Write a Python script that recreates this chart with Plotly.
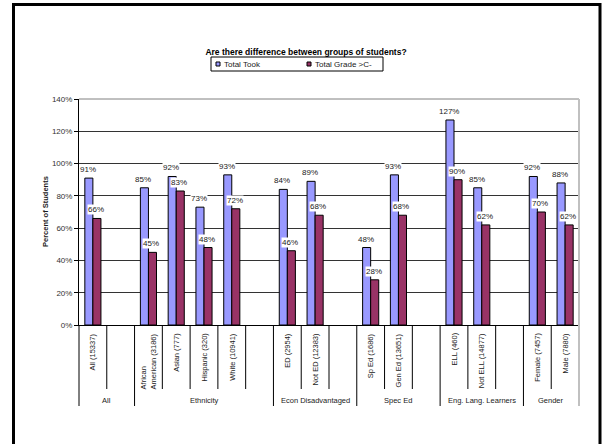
import plotly.graph_objects as go

# Categories (empty strings are spacer slots between groups)
categories = ["All (15337)", "",
              "African<br>American (3186)", "Asian (777)", "Hispanic (320)", "White (10941)", "",
              "ED (2954)", "Not ED (12383)", "",
              "Sp Ed (1686)", "Gen Ed (13651)", "",
              "ELL (460)", "Not ELL (14877)", "",
              "Female (7457)", "Male (7880)"]
total_took = [91, None, 85, 92, 73, 93, None, 84, 89, None, 48, 93, None, 127, 85, None, 92, 88]
total_grade = [66, None, 45, 83, 48, 72, None, 46, 68, None, 28, 68, None, 90, 62, None, 70, 62]
groups = ["All", "Ethnicity", "Econ Disadvantaged", "Spec Ed", "Eng. Lang. Learners", "Gender"]
group_sizes = [2, 5, 3, 3, 3, 2]
y_ticks = [0, 20, 40, 60, 80, 100, 120, 140]
y_tick_labels = [f"{v}%" for v in y_ticks]

FONT = "Arial, Liberation Sans, sans-serif"
BLUE = "#9999FF"
MAROON = "#993366"
TEXT = "#1a1a1a"

W, H = 602, 444
L, R, T, B = 79, 23, 99, 119
PW, PH = W - L - R, H - T - B
n = len(categories)
idx = list(range(n))


def px_x(px):
    return (px - L) / PW


def px_y(py):
    return (H - B - py) / PH


def slot_edge(k):
    return k / n


fig = go.Figure()
fig.add_trace(go.Bar(x=idx, y=total_took, name="Total Took", marker_color=BLUE,
                     marker_line=dict(color="#000000", width=1), showlegend=False))
fig.add_trace(go.Bar(x=idx, y=total_grade, name="Total Grade >C-", marker_color=MAROON,
                     marker_line=dict(color="#000000", width=1), showlegend=False))

annotations = []
# value labels above bars
for i in idx:
    for vals, shift in ((total_took, -5), (total_grade, 3)):
        v = vals[i]
        if v is None:
            continue
        annotations.append(dict(x=i, y=v, xref="x", yref="y", text=f"{v}%", showarrow=False,
                                xanchor="center", yanchor="bottom", xshift=shift, yshift=3,
                                bgcolor="white", borderpad=0,
                                font=dict(family=FONT, size=8, color=TEXT)))

# category labels below the axis
for i, c in enumerate(categories):
    if not c:
        continue
    annotations.append(dict(x=i, y=px_y(331), xref="x", yref="paper", text=c, showarrow=False,
                            textangle=-90, xanchor="center", yanchor="top", align="left",
                            font=dict(family=FONT, size=7.5, color=TEXT)))

shapes = []
# slot separators and group labels
group_edges = [0]
for s in group_sizes:
    group_edges.append(group_edges[-1] + s)
for k in range(n + 1):
    long = k in group_edges
    shapes.append(dict(type="line", xref="paper", yref="paper",
                       x0=slot_edge(k), x1=slot_edge(k), y0=0,
                       y1=px_y(406) if long else px_y(389),
                       line=dict(color="#c0c0c0" if k == n else "#000000", width=2 if k == n else 1)))
for g, a, b in zip(groups, group_edges[:-1], group_edges[1:]):
    annotations.append(dict(x=(a + b - 1) / 2, y=px_y(400), xref="x", yref="paper", text=g,
                            showarrow=False, xanchor="center", yanchor="middle",
                            font=dict(family=FONT, size=7.5, color=TEXT)))

# plot-area top edge and right edge
shapes.append(dict(type="line", xref="paper", yref="paper", x0=0, x1=1, y0=1, y1=1,
                   line=dict(color="#808080", width=1)))
shapes.append(dict(type="line", xref="paper", yref="paper", x0=1, x1=1, y0=0, y1=1,
                   line=dict(color="#c0c0c0", width=2)))

# y axis title
annotations.append(dict(x=px_x(45), y=0.5, xref="paper", yref="paper", text="Percent of Students",
                        showarrow=False, textangle=-90, xanchor="center", yanchor="middle",
                        font=dict(family=FONT, size=7.5, color=TEXT, weight="bold")))

# legend box
lx0, lx1, ly0, ly1 = 211, 383, 57, 71
shapes.append(dict(type="rect", xref="paper", yref="paper",
                   x0=px_x(lx0), x1=px_x(lx1), y0=px_y(ly1), y1=px_y(ly0),
                   line=dict(color="#000000", width=1), fillcolor="white"))
for name, color, sx in (("Total Took", BLUE, 216), ("Total Grade >C-", MAROON, 307)):
    shapes.append(dict(type="rect", xref="paper", yref="paper",
                       x0=px_x(sx), x1=px_x(sx + 4), y0=px_y(66), y1=px_y(62),
                       line=dict(color="#000000", width=1), fillcolor=color))
    annotations.append(dict(x=px_x(sx + 6), y=px_y(64), xref="paper", yref="paper", text=name,
                            showarrow=False, xanchor="left", yanchor="middle",
                            font=dict(family=FONT, size=8, color=TEXT)))

# outer chart border
shapes.append(dict(type="rect", xref="paper", yref="paper",
                   x0=px_x(13.5), x1=px_x(600), y0=px_y(460), y1=px_y(4.5),
                   line=dict(color="#000000", width=3)))

fig.update_layout(
    width=W, height=H,
    margin=dict(l=L, r=R, t=T, b=B, pad=0),
    paper_bgcolor="white", plot_bgcolor="white",
    barmode="group", bargap=0.42, bargroupgap=0,
    title=dict(text="Are there difference between groups of students?",
               x=306 / W, xanchor="center", xref="container",
               y=1 - 52 / H, yanchor="middle", yref="container",
               font=dict(family=FONT, size=8.5, color="#000000", weight="bold")),
    xaxis=dict(range=[-0.5, n - 0.5], showticklabels=False, showgrid=False, zeroline=False,
               showline=True, linecolor="#000000", linewidth=1, ticks=""),
    yaxis=dict(range=[0, 140], tickmode="array", tickvals=y_ticks, ticktext=y_tick_labels,
               showgrid=True, gridcolor="#333333", gridwidth=1, zeroline=False,
               showline=True, linecolor="#000000", linewidth=1,
               ticks="outside", ticklen=4, tickcolor="#000000",
               tickfont=dict(family=FONT, size=8, color="#333333")),
    annotations=annotations, shapes=shapes,
)

fig.write_html("out.html")
